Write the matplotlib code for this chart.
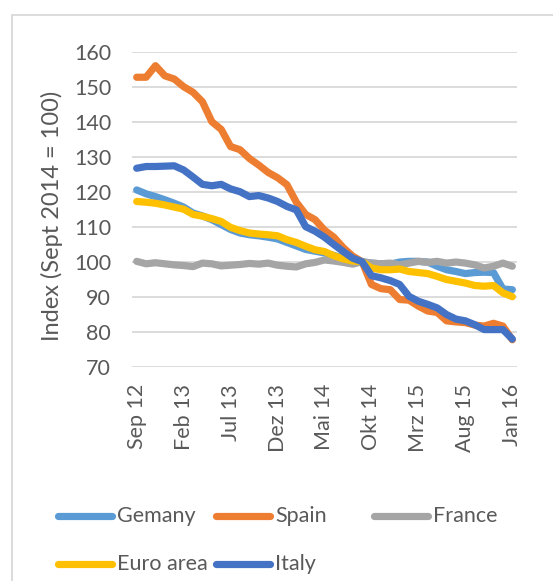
import matplotlib
matplotlib.use("Agg")
import matplotlib.pyplot as plt
from matplotlib.lines import Line2D
from matplotlib.patches import Rectangle

months = ["Sep 12", "Okt 12", "Nov 12", "Dez 12",
          "Jan 13", "Feb 13", "Mrz 13", "Apr 13", "Mai 13", "Jun 13", "Jul 13", "Aug 13",
          "Sep 13", "Okt 13", "Nov 13", "Dez 13",
          "Jan 14", "Feb 14", "Mrz 14", "Apr 14", "Mai 14", "Jun 14", "Jul 14", "Aug 14",
          "Sep 14", "Okt 14", "Nov 14", "Dez 14",
          "Jan 15", "Feb 15", "Mrz 15", "Apr 15", "Mai 15", "Jun 15", "Jul 15", "Aug 15",
          "Sep 15", "Okt 15", "Nov 15", "Dez 15", "Jan 16"]

germany = [120.5, 119.4, 118.6, 117.7, 116.7, 115.6, 113.9, 113.1, 112.0, 110.6, 109.2,
           108.2, 107.7, 107.4, 107.0, 106.5, 105.5, 104.5, 103.5, 103.0, 102.5, 101.8,
           101.0, 100.3, 100.0, 99.6, 99.4, 99.3, 99.9, 100.1, 100.1, 99.9, 98.7, 97.7,
           97.2, 96.6, 96.9, 97.0, 96.9, 92.2, 92.0]
spain = [152.7, 152.7, 156.0, 153.1, 152.2, 150.0, 148.4, 145.7, 140.0, 137.8, 132.9,
         132.0, 129.5, 127.6, 125.5, 124.0, 122.0, 117.0, 113.5, 112.0, 109.0, 107.0,
         104.0, 101.6, 100.0, 93.5, 92.3, 92.0, 89.2, 89.0, 87.3, 85.9, 85.5, 83.1,
         82.8, 82.6, 81.9, 81.6, 82.4, 81.6, 77.7]
france = [100.1, 99.4, 99.7, 99.4, 99.1, 98.9, 98.6, 99.6, 99.4, 98.8, 99.0, 99.2, 99.5,
          99.3, 99.6, 99.0, 98.7, 98.5, 99.4, 99.8, 100.5, 100.2, 99.8, 99.3, 100.0,
          99.6, 99.4, 99.6, 99.1, 99.6, 100.1, 99.8, 100.1, 99.6, 99.9, 99.6, 99.1,
          98.2, 98.7, 99.6, 98.7]
euro_area = [117.2, 117.0, 116.7, 116.2, 115.6, 115.0, 113.5, 113.0, 112.3, 111.5, 109.8,
             108.9, 108.2, 107.9, 107.7, 107.4, 106.3, 105.5, 104.4, 103.4, 102.9, 101.7,
             100.8, 100.2, 100.0, 98.2, 97.7, 97.7, 97.9, 97.2, 96.9, 96.6, 95.8, 94.9,
             94.4, 93.9, 93.2, 93.0, 93.2, 91.1, 90.0]
italy = [126.7, 127.2, 127.2, 127.3, 127.4, 126.2, 124.2, 122.1, 121.7, 122.1, 120.8,
         120.0, 118.6, 118.9, 118.2, 117.2, 115.8, 114.8, 110.0, 108.7, 107.0, 104.9,
         102.9, 101.0, 100.0, 96.0, 95.4, 94.6, 93.5, 90.1, 88.7, 87.8, 86.8, 84.9,
         83.6, 83.1, 82.0, 80.6, 80.6, 80.6, 77.9]

series_names = ["Gemany", "Spain", "France", "Euro area", "Italy"]
series_values = [germany, spain, france, euro_area, italy]
colors = ["#5B9BD5", "#ED7D31", "#A5A5A5", "#FFC000", "#4472C4"]

y_ticks = [70, 80, 90, 100, 110, 120, 130, 140, 150, 160]
y_label = "Index (Sept 2014 = 100)"

W, H = 553, 581
plt.rcParams["font.family"] = ["Lato", "DejaVu Sans"]
text_color = "#595959"
fig = plt.figure(figsize=(W / 100, H / 100), dpi=100)

ax = fig.add_axes([132 / W, 1 - 366.7 / H, (517 - 132) / W, (366.7 - 51.7) / H])
x = list(range(len(months)))
for name, vals, c in zip(series_names, series_values, colors):
    ax.plot(x, vals, color=c, lw=5.2, solid_capstyle="round", solid_joinstyle="round",
            label=name, zorder=3)

ax.set_xlim(-0.5, len(months) - 0.5)
ax.set_ylim(70, 160)
ax.set_yticks(y_ticks)
ax.set_yticklabels([str(v) for v in y_ticks])
ax.set_xticks(x[::5])
ax.set_xticklabels(months[::5], rotation=90)
ax.grid(axis="y", color="#D9D9D9", lw=1.3, zorder=0)
ax.grid(axis="x", visible=False)
for s in ax.spines.values():
    s.set_visible(False)
ax.tick_params(axis="both", length=0, labelsize=15.5, labelcolor=text_color)
ax.tick_params(axis="y", pad=15)
ax.tick_params(axis="x", pad=12.5)

fig.text(52 / W, 1 - 216 / H, y_label, rotation=90, fontsize=17, color=text_color,
         ha="center", va="center")

# chart border
fig.add_artist(Rectangle((12 / W, -0.05), 1.2, 1 - 15 / H + 0.05, transform=fig.transFigure,
                         fill=False, edgecolor="#D9D9D9", lw=1.3, clip_on=False))

# legend
rows = [516, 564]
cols = [58, 216, 374]
for i, (name, c) in enumerate(zip(series_names, colors)):
    r, k = divmod(i, 3)
    yy = 1 - rows[r] / H
    x0 = cols[k]
    fig.add_artist(Line2D([x0 / W, (x0 + 54) / W], [yy, yy], transform=fig.transFigure,
                          color=c, lw=5.2, solid_capstyle="round"))
    fig.text((x0 + 59) / W, yy, name, fontsize=15.5, color=text_color, va="center", ha="left")

fig.savefig("out.png", dpi=100)
